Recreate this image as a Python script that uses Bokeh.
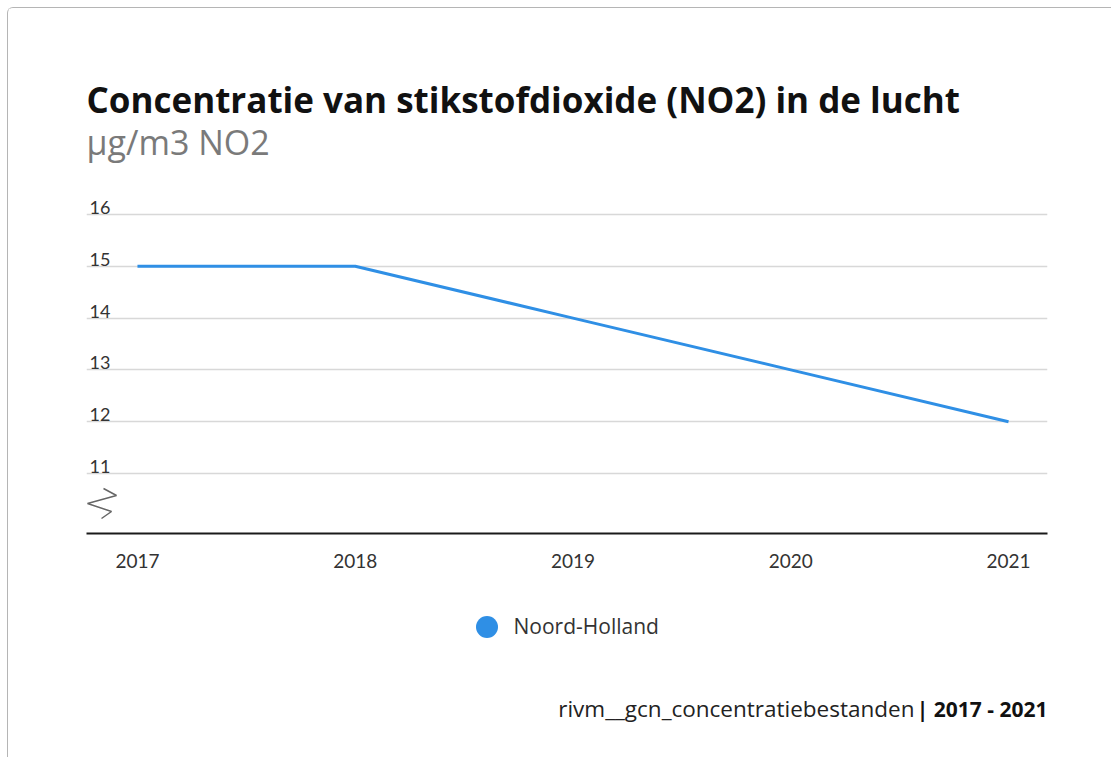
from bokeh.plotting import figure
from bokeh.models import (Range1d, FixedTicker, Label, Legend, LegendItem, ColumnDataSource)
from bokeh.layouts import column
from bokeh.core.properties import value
from bokeh.embed import file_html
from bokeh.resources import INLINE

# ---- data ----
years = [2017, 2018, 2019, 2020, 2021]
no2_noord_holland = [15.0, 15.0, 14.0, 13.0, 12.0]
y_ticks = [11, 12, 13, 14, 15, 16]
y_tick_labels = ["11", "12", "13", "14", "15", "16"]
series_name = "Noord-Holland"
title_text = "Concentratie van stikstofdioxide (NO2) in de lucht"
subtitle_text = "µg/m3 NO2"
source_text = "rivm__gcn_concentratiebestanden"
period_text = "| 2017 - 2021"

FONT = "Lato"
TFONT = "Open Sans"
BLUE = "#2f8fe5"

# ---- layout: content starts at page (8, 8) ----
OFF = 8
W = 1103
H1 = 592          # main chart figure (page y 8..600)
H2 = 157          # legend / source strip (page y 600..757)
FL, FR = 78, 1039
FT, FB = 52, 525
x0, x1 = 2016.766, 2021.179
unit = 51.8
y0 = 11 - (FB - 465) / unit
y1 = 16 + (206 - FT) / unit

def px_x(page_x):
    fx = page_x - OFF
    return x0 + (fx - FL) / (FR - FL) * (x1 - x0)

def px_y(page_y):
    fy = page_y - OFF
    return y1 - (fy - FT) / (FB - FT) * (y1 - y0)

xr = Range1d(x0, x1)
p = figure(width=W, height=H1, output_backend="svg", toolbar_location=None,
           x_range=xr, y_range=Range1d(y0, y1),
           min_border_left=FL, min_border_right=W - FR,
           min_border_top=FT, min_border_bottom=H1 - FB)
p.outline_line_color = None
p.background_fill_color = "white"
p.border_fill_color = "white"

# grid
p.xgrid.visible = False
p.ygrid.ticker = FixedTicker(ticks=y_ticks)
p.ygrid.grid_line_color = "#d8d8d8"
p.ygrid.grid_line_width = 1.5

# axes
p.yaxis.visible = False
xa = p.xaxis[0]
xa.ticker = FixedTicker(ticks=years)
xa.axis_line_color = "#1a1a1a"
xa.axis_line_width = 2
xa.major_tick_line_color = None
xa.minor_tick_line_color = None
xa.major_label_standoff = 14
xa.major_label_text_font = FONT
xa.major_label_text_font_size = "19px"
xa.major_label_text_color = "#333333"

# y tick labels above grid lines
p.text(x=[px_x(89)] * len(y_ticks), y=y_ticks, text=y_tick_labels,
       text_font=value(FONT), text_font_size="18px", text_color="#333333",
       text_baseline="alphabetic", text_align="left", y_offset=-7)

# axis break zigzag
zx = [103, 116, 87, 111, 101]
zy = [488, 495, 503, 511, 518]
p.line(x=[px_x(v) for v in zx], y=[px_y(v) for v in zy], line_color="#666666",
       line_width=1.5)

# series
src = ColumnDataSource(dict(x=years, y=no2_noord_holland))
p.line("x", "y", source=src, line_color=BLUE, line_width=3)

# titles (Label baseline lands ~0.4*size below the given y)
p.add_layout(Label(x=px_x(86), y=px_y(113 - 14), text=title_text,
                   text_font=TFONT, text_font_style="bold",
                   text_font_size="35px", text_color="#111111",
                   text_baseline="alphabetic", text_align="left"))
p.add_layout(Label(x=px_x(86), y=px_y(155 - 13.5), text=subtitle_text,
                   text_font=TFONT, text_font_size="34px",
                   text_color="#7a7a7a",
                   text_baseline="alphabetic", text_align="left"))

# ---- legend + source strip ----
TOP2 = 600
p2 = figure(width=W, height=H2, output_backend="svg", toolbar_location=None,
            x_range=xr, y_range=Range1d(H2, 0),
            min_border_left=FL, min_border_right=W - FR,
            min_border_top=0, min_border_bottom=0)
p2.axis.visible = False
p2.grid.visible = False
p2.outline_line_color = None
p2.background_fill_color = "white"
p2.border_fill_color = "white"

sc = p2.scatter(x=years, y=no2_noord_holland, size=0, fill_color=BLUE,
                line_color=BLUE, line_width=0)
legend = Legend(items=[LegendItem(label=series_name, renderers=[sc])],
                orientation="horizontal",
                location=(458.5 - OFF - FL, (TOP2 + H2) - 653.5),
                border_line_color=None, background_fill_alpha=0,
                label_text_font=TFONT, label_text_font_size="21px",
                label_text_color="#333333",
                glyph_width=55, glyph_height=55, label_standoff=0,
                padding=0, margin=0)
p2.add_layout(legend, "center")

p2.add_layout(Label(x=px_x(1047), y=716 - 8 - TOP2, text=period_text,
                    text_font=TFONT, text_font_style="bold",
                    text_font_size="21px", text_color="#111111",
                    text_baseline="alphabetic", text_align="right"))
p2.add_layout(Label(x=px_x(914), y=716 - 8 - TOP2, text=source_text,
                    text_font=TFONT, text_font_size="22.5px", text_color="#222222",
                    text_baseline="alphabetic", text_align="right"))

layout = column(p, p2, spacing=0,
                styles={"margin-left": "7px", "margin-top": "7px",
                        "border-left": "1px solid #b5b5b5",
                        "border-top": "1px solid #b5b5b5",
                        "border-top-left-radius": "6px"})

open("out.html", "w").write(file_html(layout, INLINE))
